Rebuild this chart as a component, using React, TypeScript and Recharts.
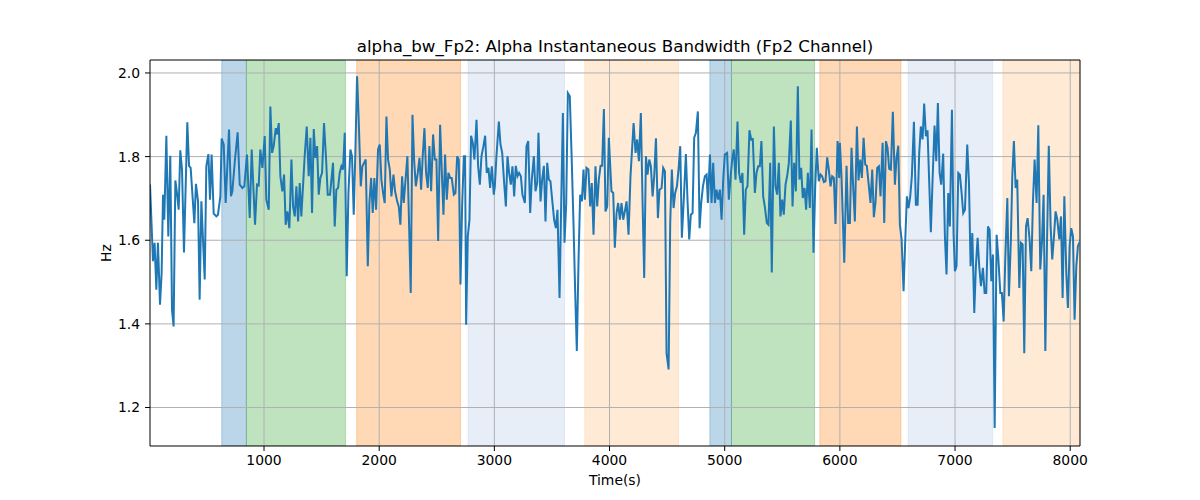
import React from 'react';
import { LineChart, Line, XAxis, YAxis, CartesianGrid, ReferenceArea, ReferenceLine } from 'recharts';

const timeS: number[] = [
  10, 36, 50, 65, 79, 97, 111, 123, 134, 152, 169, 186, 201, 215, 230, 244, 259, 273, 288, 305, 334, 349, 363, 395, 409, 427, 441, 456, 485, 499, 517, 531, 545, 563, 586, 600, 621, 632, 650, 667, 696, 713, 725, 748, 771, 789, 812, 829, 852, 876, 893, 922, 939, 954, 968, 986,
  1006, 1020, 1041, 1055, 1070, 1084, 1102, 1113, 1128, 1142, 1159, 1174, 1188, 1203, 1220, 1238, 1252, 1267, 1281, 1296, 1310, 1324, 1353, 1371, 1388, 1403, 1417, 1432, 1446, 1461, 1475, 1489, 1504, 1521, 1539, 1553, 1573, 1599, 1614, 1628, 1643, 1657, 1672, 1686, 1701, 1718, 1733, 1750, 1764, 1779, 1793, 1808, 1822, 1840, 1854, 1869, 1883, 1901, 1915, 1930, 1944, 1958, 1973, 1990,
  2005, 2019, 2034, 2048, 2063, 2077, 2092, 2106, 2124, 2138, 2156, 2170, 2184, 2199, 2213, 2231, 2245, 2260, 2274, 2289, 2303, 2318, 2335, 2350, 2364, 2378, 2393, 2407, 2422, 2436, 2451, 2468, 2483, 2497, 2512, 2529, 2543, 2558, 2572, 2587, 2601, 2616, 2630, 2648, 2662, 2677, 2691, 2706, 2720, 2735, 2746, 2755, 2769, 2784, 2798, 2813, 2827, 2845, 2859, 2874, 2888, 2905, 2920, 2934, 2949, 2963, 2978, 2995,
  3004, 3018, 3039, 3053, 3068, 3085, 3100, 3114, 3128, 3143, 3157, 3172, 3186, 3201, 3215, 3230, 3244, 3265, 3279, 3294, 3311, 3325, 3343, 3357, 3372, 3383, 3401, 3415, 3430, 3444, 3459, 3473, 3487, 3502, 3519, 3534, 3548, 3566, 3580, 3595, 3609, 3624, 3638, 3655, 3670, 3687, 3702, 3716, 3731, 3745, 3760, 3774, 3786, 3800, 3817, 3832, 3846, 3861, 3878, 3893, 3907, 3922, 3936, 3951, 3965, 3980, 3994,
  4017, 4032, 4046, 4061, 4075, 4090, 4104, 4119, 4133, 4148, 4165, 4182, 4209, 4226, 4240, 4255, 4272, 4287, 4301, 4316, 4330, 4345, 4359, 4374, 4388, 4403, 4420, 4434, 4452, 4466, 4481, 4495, 4513, 4527, 4541, 4556, 4570, 4585, 4599, 4614, 4628, 4646, 4663, 4678, 4692, 4706, 4721, 4735, 4750, 4767, 4782, 4796, 4811, 4828, 4843, 4854, 4872, 4886, 4900, 4915, 4929, 4944, 4958, 4973, 4987,
  5001, 5021, 5036, 5050, 5065, 5079, 5094, 5111, 5125, 5140, 5154, 5169, 5183, 5198, 5215, 5230, 5244, 5262, 5276, 5291, 5305, 5319, 5334, 5348, 5366, 5380, 5395, 5409, 5427, 5441, 5456, 5470, 5484, 5499, 5513, 5528, 5542, 5557, 5574, 5589, 5603, 5618, 5635, 5649, 5664, 5678, 5693, 5707, 5722, 5739, 5754, 5771, 5786, 5800, 5817, 5832, 5846, 5861, 5875, 5890, 5904, 5919, 5933, 5948, 5962, 5980, 5994,
  6000, 6014, 6038, 6058, 6072, 6087, 6101, 6116, 6130, 6148, 6162, 6177, 6191, 6206, 6220, 6234, 6249, 6266, 6281, 6295, 6310, 6324, 6339, 6353, 6371, 6385, 6400, 6414, 6428, 6443, 6460, 6478, 6492, 6507, 6521, 6536, 6553, 6567, 6582, 6596, 6611, 6625, 6643, 6660, 6675, 6689, 6703, 6718, 6732, 6747, 6761, 6776, 6790, 6805, 6822, 6837, 6851, 6866, 6880, 6897, 6912, 6926, 6941, 6955, 6973, 6987,
  6999, 7013, 7028, 7042, 7057, 7071, 7086, 7106, 7121, 7135, 7150, 7167, 7181, 7196, 7210, 7225, 7242, 7257, 7271, 7286, 7300, 7315, 7329, 7344, 7361, 7375, 7393, 7407, 7422, 7436, 7454, 7468, 7485, 7497, 7511, 7526, 7540, 7558, 7572, 7587, 7601, 7616, 7630, 7647, 7662, 7676, 7691, 7708, 7723, 7740, 7755, 7769, 7784, 7798, 7814, 7830, 7844, 7859, 7873, 7888, 7905, 7920, 7934, 7949, 7966, 7980, 7995, 8009, 8024, 8038, 8053, 8067, 8085,
];

const bandwidthHz: number[] = [
  1.733, 1.55, 1.594, 1.482, 1.594, 1.446, 1.522, 1.709, 1.649, 1.85, 1.609, 1.802, 1.434, 1.394, 1.743, 1.713, 1.673, 1.815, 1.769, 1.571, 1.882, 1.778, 1.773, 1.641, 1.735, 1.693, 1.458, 1.693, 1.506, 1.777, 1.806, 1.697, 1.805, 1.664, 1.657, 1.661, 1.705, 1.843, 1.829, 1.689, 1.865, 1.705, 1.717, 1.793, 1.858, 1.733, 1.725, 1.729, 1.805, 1.653, 1.817, 1.637, 1.733, 1.731, 1.817, 1.773,
  1.849, 1.697, 1.673, 1.92, 1.809, 1.825, 1.868, 1.853, 1.88, 1.753, 1.717, 1.757, 1.637, 1.669, 1.629, 1.793, 1.681, 1.657, 1.729, 1.645, 1.737, 1.657, 1.801, 1.872, 1.753, 1.845, 1.665, 1.866, 1.797, 1.825, 1.709, 1.749, 1.761, 1.88, 1.793, 1.709, 1.709, 1.785, 1.633, 1.721, 1.725, 1.761, 1.777, 1.769, 1.857, 1.514, 1.713, 1.817, 1.801, 1.661, 1.809, 1.992, 1.888, 1.729, 1.777, 1.785, 1.793, 1.538, 1.689, 1.749, 1.665, 1.749, 1.673, 1.817,
  1.829, 1.745, 1.713, 1.689, 1.896, 1.793, 1.769, 1.705, 1.757, 1.717, 1.693, 1.681, 1.637, 1.753, 1.689, 1.753, 1.801, 1.633, 1.474, 1.9, 1.793, 1.729, 1.761, 1.797, 1.721, 1.801, 1.868, 1.761, 1.725, 1.825, 1.717, 1.853, 1.793, 1.793, 1.598, 1.876, 1.769, 1.661, 1.805, 1.697, 1.761, 1.749, 1.749, 1.709, 1.713, 1.801, 1.793, 1.494, 1.681, 1.801, 1.801, 1.398, 1.609, 1.649, 1.85, 1.833, 1.793, 1.888, 1.777, 1.733, 1.801, 1.825, 1.85, 1.761, 1.773, 1.725, 1.777, 1.709,
  1.729, 1.801, 1.884, 1.829, 1.809, 1.737, 1.681, 1.801, 1.761, 1.733, 1.777, 1.705, 1.778, 1.753, 1.761, 1.753, 1.709, 1.689, 1.825, 1.837, 1.665, 1.745, 1.801, 1.717, 1.737, 1.857, 1.693, 1.745, 1.778, 1.645, 1.785, 1.745, 1.741, 1.697, 1.649, 1.629, 1.673, 1.462, 1.681, 1.904, 1.594, 1.689, 1.952, 1.944, 1.809, 1.641, 1.474, 1.335, 1.554, 1.709, 1.693, 1.769, 1.697, 1.773, 1.769, 1.681, 1.737, 1.613, 1.777, 1.681, 1.745, 1.778, 1.778, 1.914, 1.669, 1.681, 1.845,
  1.717, 1.713, 1.582, 1.665, 1.689, 1.649, 1.689, 1.649, 1.669, 1.693, 1.613, 1.753, 1.88, 1.809, 1.841, 1.789, 1.904, 1.689, 1.51, 1.801, 1.757, 1.793, 1.777, 1.705, 1.753, 1.844, 1.653, 1.721, 1.725, 1.773, 1.765, 1.33, 1.291, 1.641, 1.769, 1.677, 1.713, 1.729, 1.769, 1.825, 1.606, 1.705, 1.806, 1.689, 1.602, 1.661, 1.665, 1.845, 1.857, 1.908, 1.629, 1.689, 1.729, 1.753, 1.757, 1.689, 1.805, 1.689, 1.785, 1.689, 1.721, 1.697, 1.721, 1.649, 1.745,
  1.805, 1.809, 1.697, 1.749, 1.793, 1.817, 1.745, 1.884, 1.761, 1.737, 1.761, 1.613, 1.721, 1.729, 1.863, 1.841, 1.842, 1.713, 1.761, 1.777, 1.777, 1.837, 1.705, 1.681, 1.641, 1.637, 1.785, 1.523, 1.872, 1.729, 1.709, 1.785, 1.657, 1.697, 1.661, 1.733, 1.753, 1.785, 1.886, 1.681, 1.785, 1.717, 1.968, 1.745, 1.773, 1.701, 1.725, 1.673, 1.761, 1.677, 1.865, 1.57, 1.729, 1.821, 1.741, 1.757, 1.753, 1.739, 1.741, 1.798, 1.769, 1.729, 1.753, 1.749, 1.639, 1.837, 1.749,
  1.833, 1.753, 1.546, 1.778, 1.641, 1.641, 1.821, 1.725, 1.645, 1.872, 1.743, 1.793, 1.749, 1.845, 1.781, 1.778, 1.737, 1.689, 1.769, 1.655, 1.693, 1.773, 1.777, 1.705, 1.833, 1.641, 1.837, 1.821, 1.771, 1.769, 1.907, 1.733, 1.797, 1.826, 1.637, 1.602, 1.478, 1.594, 1.705, 1.677, 1.705, 1.753, 1.883, 1.685, 1.685, 1.809, 1.872, 1.841, 1.927, 1.849, 1.863, 1.737, 1.619, 1.745, 1.874, 1.789, 1.928, 1.761, 1.733, 1.807, 1.609, 1.518, 1.713, 1.633, 1.912, 1.617,
  1.526, 1.538, 1.761, 1.757, 1.713, 1.665, 1.673, 1.829, 1.737, 1.538, 1.617, 1.426, 1.538, 1.606, 1.538, 1.49, 1.534, 1.474, 1.474, 1.633, 1.625, 1.502, 1.566, 1.151, 1.613, 1.562, 1.474, 1.474, 1.406, 1.554, 1.701, 1.466, 1.602, 1.753, 1.837, 1.725, 1.745, 1.486, 1.594, 1.59, 1.33, 1.633, 1.653, 1.602, 1.526, 1.689, 1.793, 1.689, 1.875, 1.53, 1.598, 1.709, 1.335, 1.586, 1.826, 1.633, 1.554, 1.609, 1.669, 1.649, 1.602, 1.657, 1.462, 1.705, 1.522, 1.438, 1.586, 1.629, 1.609, 1.41, 1.538, 1.586, 1.597,
];

const bandStart: number[] = [633, 847, 1805, 2772, 3785, 4871, 5059, 5826, 6593, 7416];
const bandEnd: number[] = [847, 1707, 2706, 3609, 4599, 5059, 5780, 6530, 7326, 8085];
const bandColor: string[] = ['#1f77b4', '#2ca02c', '#ff7f0e', '#aec7e8', '#ffbb78', '#1f77b4', '#2ca02c', '#ff7f0e', '#aec7e8', '#ffbb78'];

const xTicks: number[] = [1000, 2000, 3000, 4000, 5000, 6000, 7000, 8000];
const yTicks: number[] = [1.2, 1.4, 1.6, 1.8, 2.0];
const xDomain: [number, number] = [10, 8085];
const yDomain: [number, number] = [1.108, 2.031];

const data = timeS.map((t, i) => ({ t, v: bandwidthHz[i] }));

const FONT = 'DejaVu Sans';

export default function App() {
  return (
    <div style={{ position: 'absolute', left: 0, top: 0, width: 1200, height: 500, background: '#fff' }}>
      <LineChart width={1200} height={500} data={data} margin={{ top: 60, right: 120, bottom: 0, left: 0 }}>
        {bandStart.map((s, i) => (
          <ReferenceArea
            key={'b' + i}
            x1={s}
            x2={bandEnd[i]}
            y1={yDomain[0]}
            y2={yDomain[1]}
            fill={bandColor[i]}
            fillOpacity={0.3}
            stroke={bandColor[i]}
            strokeOpacity={0.3}
            strokeWidth={1}
            ifOverflow="hidden"
          />
        ))}
        {xTicks.map((x) => (
          <ReferenceLine key={'gx' + x} x={x} stroke="#b0b0b0" strokeWidth={1} />
        ))}
        {yTicks.map((y) => (
          <ReferenceLine key={'gy' + y} y={y} stroke="#b0b0b0" strokeWidth={1} />
        ))}
        <XAxis
          type="number"
          dataKey="t"
          domain={xDomain}
          ticks={xTicks}
          allowDataOverflow
          height={54}
          stroke="#000"
          tickSize={5}
          tickMargin={4}
          tick={{ fill: '#000', fontSize: 13.9, fontFamily: FONT }}
        />
        <YAxis
          type="number"
          domain={yDomain}
          ticks={yTicks}
          allowDataOverflow
          width={150}
          stroke="#000"
          tickSize={5}
          tickMargin={5}
          tickFormatter={(v: number) => v.toFixed(1)}
          tick={{ fill: '#000', fontSize: 13.9, fontFamily: FONT }}
        />
        <ReferenceLine y={yDomain[1]} stroke="#000" strokeWidth={1} />
        <ReferenceLine x={xDomain[1]} stroke="#000" strokeWidth={1} />
        <Line
          type="linear"
          dataKey="v"
          stroke="#1f77b4"
          strokeWidth={2}
          dot={false}
          activeDot={false}
          isAnimationActive={false}
        />
      </LineChart>
      <svg width={1200} height={500} style={{ position: 'absolute', left: 0, top: 0, pointerEvents: 'none' }}>
        <text x={615} y={52} textAnchor="middle" fontSize={16.67} fontFamily={FONT} fill="#000">
          alpha_bw_Fp2: Alpha Instantaneous Bandwidth (Fp2 Channel)
        </text>
        <text x={615} y={485} textAnchor="middle" fontSize={13.9} fontFamily={FONT} fill="#000">
          Time(s)
        </text>
        <text x={111} y={253} textAnchor="middle" fontSize={13.9} fontFamily={FONT} fill="#000" transform="rotate(-90 111 253)">
          Hz
        </text>
      </svg>
    </div>
  );
}
